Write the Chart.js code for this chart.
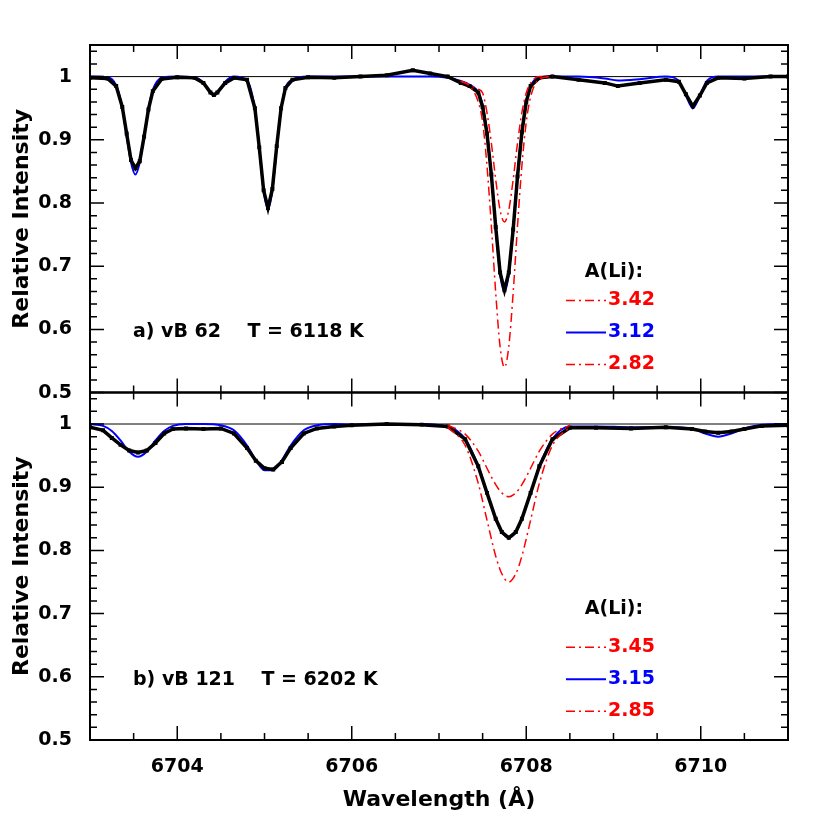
<!DOCTYPE html>
<html>
<head>
<meta charset="utf-8">
<script src="https://cdn.jsdelivr.net/npm/chart.js@4.4.1/dist/chart.umd.min.js"></script>
<style>
  body { margin: 0; background: #fff; }
  #wrap { position: relative; width: 830px; height: 830px; }
  canvas { position: absolute; left: 0; }
</style>
</head>
<body>
<div id="wrap">
  <canvas id="panelA" style="top:0"></canvas>
  <canvas id="panelB" style="top:371px"></canvas>
</div>
<script>
// ---- panel a: vB 62 ----
const waveA = [6703.0, 6703.2, 6703.3, 6703.37, 6703.42, 6703.47, 6703.52, 6703.57, 6703.62, 6703.67, 6703.72, 6703.82, 6704.0,
  6704.2, 6704.3, 6704.38, 6704.42, 6704.46, 6704.55, 6704.65,
  6704.8, 6704.89, 6704.94, 6704.99, 6705.04, 6705.09, 6705.14, 6705.19, 6705.24, 6705.32, 6705.5,
  6705.8, 6706.1, 6706.4, 6706.7, 6706.9, 6707.1,
  6707.25, 6707.35, 6707.45, 6707.5, 6707.55, 6707.6, 6707.65, 6707.7, 6707.75, 6707.8, 6707.85, 6707.9, 6707.95, 6708.0, 6708.05, 6708.15, 6708.3,
  6708.6, 6708.9, 6709.05, 6709.3, 6709.6, 6709.75, 6709.83, 6709.91, 6709.99, 6710.07, 6710.2, 6710.5, 6710.8, 6711.0];
const obsA = [0.998, 0.997, 0.985, 0.952, 0.910, 0.868, 0.855, 0.866, 0.905, 0.948, 0.977, 0.996, 0.999,
  0.998, 0.990, 0.975, 0.971, 0.975, 0.990, 0.998,
  0.995, 0.950, 0.888, 0.820, 0.792, 0.822, 0.890, 0.950, 0.982, 0.995, 0.999,
  0.998, 1.000, 1.002, 1.010, 1.005, 1.000,
  0.990, 0.985, 0.975, 0.952, 0.910, 0.845, 0.762, 0.690, 0.662, 0.690, 0.758, 0.842, 0.912, 0.960, 0.985, 0.998, 1.000,
  0.995, 0.990, 0.985, 0.990, 0.995, 0.992, 0.972, 0.953, 0.970, 0.990, 0.998, 0.997, 1.000, 1.000];
const fitA = [1.000, 0.999, 0.986, 0.950, 0.906, 0.864, 0.845, 0.864, 0.906, 0.950, 0.979, 0.998, 1.000,
  0.999, 0.990, 0.974, 0.970, 0.974, 0.992, 1.000,
  0.994, 0.948, 0.887, 0.820, 0.790, 0.820, 0.887, 0.948, 0.982, 0.995, 1.000,
  1.000, 1.000, 1.000, 1.000, 1.000, 0.998,
  0.993, 0.987, 0.975, 0.955, 0.912, 0.843, 0.760, 0.688, 0.660, 0.688, 0.760, 0.844, 0.915, 0.961, 0.985, 0.999, 1.000,
  1.000, 0.997, 0.994, 0.996, 1.000, 0.993, 0.970, 0.950, 0.970, 0.993, 1.000, 1.000, 1.000, 1.000];
const waveLiA = [6707.25, 6707.35, 6707.45, 6707.5, 6707.55, 6707.6, 6707.65, 6707.7, 6707.75, 6707.8, 6707.85, 6707.9, 6707.95, 6708.0, 6708.05, 6708.15, 6708.3];
const hiLiA = [0.993, 0.985, 0.960, 0.928, 0.859, 0.764, 0.658, 0.573, 0.540, 0.573, 0.658, 0.764, 0.859, 0.928, 0.968, 0.996, 1.000];
const loLiA = [0.993, 0.987, 0.980, 0.974, 0.943, 0.895, 0.837, 0.789, 0.770, 0.789, 0.837, 0.895, 0.943, 0.974, 0.990, 1.000, 1.000];

// ---- panel b: vB 121 ----
const waveB = [6703.0, 6703.15, 6703.25, 6703.35, 6703.45, 6703.55, 6703.65, 6703.75, 6703.85, 6703.95, 6704.1, 6704.3,
  6704.5, 6704.65, 6704.8, 6704.9, 6705.0, 6705.1, 6705.2, 6705.3, 6705.45, 6705.6, 6705.8,
  6706.0, 6706.4, 6706.8,
  6707.1, 6707.3, 6707.45, 6707.55, 6707.65, 6707.72, 6707.8, 6707.88, 6707.95, 6708.05, 6708.15, 6708.3, 6708.5,
  6708.8, 6709.2, 6709.6, 6709.9, 6710.05, 6710.2, 6710.35, 6710.5, 6710.7, 6711.0];
const obsB = [0.995, 0.990, 0.978, 0.967, 0.958, 0.955, 0.958, 0.970, 0.985, 0.992, 0.993, 0.992,
  0.993, 0.985, 0.962, 0.942, 0.930, 0.928, 0.940, 0.962, 0.985, 0.993, 0.996,
  0.998, 1.000, 0.999,
  0.996, 0.976, 0.933, 0.891, 0.850, 0.829, 0.820, 0.829, 0.850, 0.891, 0.933, 0.976, 0.994,
  0.994, 0.993, 0.995, 0.992, 0.988, 0.986, 0.988, 0.992, 0.997, 0.998];
const fitB = [1.000, 0.997, 0.989, 0.974, 0.956, 0.948, 0.956, 0.974, 0.989, 0.997, 1.000, 1.000,
  0.998, 0.990, 0.966, 0.943, 0.927, 0.927, 0.943, 0.966, 0.990, 0.998, 1.000,
  0.999, 1.000, 1.000,
  0.996, 0.976, 0.933, 0.891, 0.850, 0.829, 0.820, 0.829, 0.850, 0.891, 0.933, 0.976, 0.996,
  0.996, 0.995, 0.995, 0.993, 0.985, 0.980, 0.985, 0.993, 0.999, 1.000];
const waveLiB = [6707.1, 6707.3, 6707.45, 6707.55, 6707.65, 6707.72, 6707.8, 6707.88, 6707.95, 6708.05, 6708.15, 6708.3, 6708.5];
const hiLiB = [0.995, 0.966, 0.906, 0.848, 0.791, 0.763, 0.750, 0.763, 0.791, 0.848, 0.906, 0.966, 0.995];
const loLiB = [0.998, 0.984, 0.957, 0.930, 0.904, 0.891, 0.885, 0.891, 0.904, 0.930, 0.957, 0.984, 0.998];

const yTicks = [0.5, 0.6, 0.7, 0.8, 0.9, 1.0];
const xTicks = [6704, 6706, 6708, 6710];
const FONT = '"DejaVu Sans", sans-serif';
const RED = '#ff0000', BLUE = '#0000ff';
const DASH = [9, 4, 2, 4];

function pts(xs, ys) { return xs.map((x, i) => ({ x: x, y: ys[i] })); }

// inward ticks, frame, unit line, labels
const decorPlugin = {
  id: 'decor',
  beforeDatasetsDraw(chart) {
    const { ctx, chartArea: a, scales: { x, y } } = chart;
    ctx.save();
    ctx.strokeStyle = '#000';
    ctx.lineWidth = 1;
    const y1 = y.getPixelForValue(1);
    ctx.beginPath(); ctx.moveTo(a.left, y1); ctx.lineTo(a.right, y1); ctx.stroke();
    ctx.restore();
  },
  afterDraw(chart) {
    const { ctx, chartArea: a, scales: { x, y } } = chart;
    const o = chart.options.plugins.decor;
    ctx.save();
    ctx.strokeStyle = '#000';
    ctx.lineWidth = 2;
    ctx.strokeRect(a.left, a.top, a.right - a.left, a.bottom - a.top);
    ctx.lineWidth = 1.5;
    ctx.beginPath();
    for (let i = 0; i <= 80; i++) {
      const v = 6703 + i * 0.1;
      if (i % 5 !== 0) continue;
      const px = x.getPixelForValue(v);
      const len = (i % 10 === 0 && Math.round(v) % 2 === 0) ? 14 : 7;
      ctx.moveTo(px, a.bottom); ctx.lineTo(px, a.bottom - len);
      ctx.moveTo(px, a.top); ctx.lineTo(px, a.top + len);
    }
    for (let i = 25; i <= 52; i++) {
      const v = i * 0.02;
      const py = y.getPixelForValue(v);
      const len = i % 5 === 0 ? 14 : 7;
      ctx.moveTo(a.left, py); ctx.lineTo(a.left + len, py);
      ctx.moveTo(a.right, py); ctx.lineTo(a.right - len, py);
    }
    ctx.stroke();

    ctx.fillStyle = '#000';
    ctx.font = 'bold 19px ' + FONT;
    ctx.textAlign = 'left';
    ctx.textBaseline = 'middle';
    ctx.fillText(o.label, 133, y.getPixelForValue(o.labelY));
    ctx.textAlign = 'center';
    ctx.fillText('A(Li):', 614, y.getPixelForValue(o.legendY));
    const rows = [[o.names[0], RED, DASH], [o.names[1], BLUE, []], [o.names[2], RED, DASH]];
    rows.forEach((r, k) => {
      const py = y.getPixelForValue(o.legendY) + o.gap + k * 32;
      ctx.strokeStyle = r[1];
      ctx.lineWidth = r[1] === BLUE ? 2 : 1.5;
      ctx.setLineDash(r[2]);
      ctx.beginPath(); ctx.moveTo(566, py); ctx.lineTo(606, py); ctx.stroke();
      ctx.setLineDash([]);
      ctx.fillStyle = r[1];
      ctx.textAlign = 'left';
      ctx.fillText(r[0], 608, py);
    });

    ctx.fillStyle = '#000';
    ctx.font = 'bold 22px ' + FONT;
    ctx.textAlign = 'center';
    ctx.translate(22, (a.top + a.bottom) / 2);
    ctx.rotate(-Math.PI / 2);
    ctx.fillText('Relative Intensity', 0, 0);
    ctx.restore();
    if (o.xTitle) {
      ctx.save();
      ctx.font = 'bold 22px ' + FONT;
      ctx.fillStyle = '#000';
      ctx.textAlign = 'center';
      ctx.textBaseline = 'middle';
      ctx.fillText('Wavelength (Å)', (a.left + a.right) / 2, a.bottom + 60);
      ctx.restore();
    }
  }
};

function makePanel(id, height, top, bottomSpace, d, decor) {
  const cv = document.getElementById(id);
  cv.width = 830; cv.height = height;
  cv.style.width = '830px'; cv.style.height = height + 'px';
  const line = (data, color, width, dash) => ({
    data: data, borderColor: color, borderWidth: width, borderDash: dash,
    pointRadius: 0, fill: false, cubicInterpolationMode: 'monotone'
  });
  new Chart(cv, {
    type: 'line',
    data: {
      datasets: [
        line(pts(d.waveLi, d.hi), RED, 1.5, DASH),
        line(pts(d.waveLi, d.lo), RED, 1.5, DASH),
        Object.assign(line(pts(d.wave, d.obs), '#000', 3.5, []), {
          pointRadius: 2.8, pointStyle: 'rect', pointBackgroundColor: '#000', pointBorderWidth: 0,
          cubicInterpolationMode: 'default', tension: 0
        }),
        line(pts(d.wave, d.fit), BLUE, 2, [])
      ]
    },
    options: {
      responsive: false, animation: false, devicePixelRatio: 1,
      layout: { autoPadding: false, padding: { top: top, right: 42, left: 0, bottom: 0 } },
      plugins: { legend: { display: false }, tooltip: { enabled: false }, decor: decor },
      scales: {
        x: {
          type: 'linear', min: 6703, max: 6711,
          grid: { display: false }, border: { display: false },
          afterBuildTicks: s => { s.ticks = xTicks.map(v => ({ value: v })); },
          afterFit: s => { s.height = bottomSpace; },
          ticks: { display: bottomSpace > 0, font: { family: FONT, size: 19, weight: 'bold' }, color: '#000', padding: 8,
                   callback: v => String(v) }
        },
        y: {
          min: 0.5, max: 1.05,
          grid: { display: false }, border: { display: false },
          afterBuildTicks: s => { s.ticks = yTicks.map(v => ({ value: v })); },
          afterFit: s => { s.width = 90; },
          ticks: { font: { family: FONT, size: 19, weight: 'bold' }, color: '#000', padding: 10,
                   callback: v => (v === 1 ? '1' : v.toFixed(1)) }
        }
      }
    },
    plugins: [decorPlugin]
  });
}

makePanel('panelA', 414, 45, 0,
  { wave: waveA, obs: obsA, fit: fitA, waveLi: waveLiA, hi: hiLiA, lo: loLiA },
  { label: 'a) vB 62    T = 6118 K', labelY: 0.595, legendY: 0.69, gap: 28, names: ['3.42', '3.12', '2.82'] });
makePanel('panelB', 459, 0, 90,
  { wave: waveB, obs: obsB, fit: fitB, waveLi: waveLiB, hi: hiLiB, lo: loLiB },
  { label: 'b) vB 121    T = 6202 K', labelY: 0.595, legendY: 0.707, gap: 38, names: ['3.45', '3.15', '2.85'], xTitle: true });
</script>
</body>
</html>
